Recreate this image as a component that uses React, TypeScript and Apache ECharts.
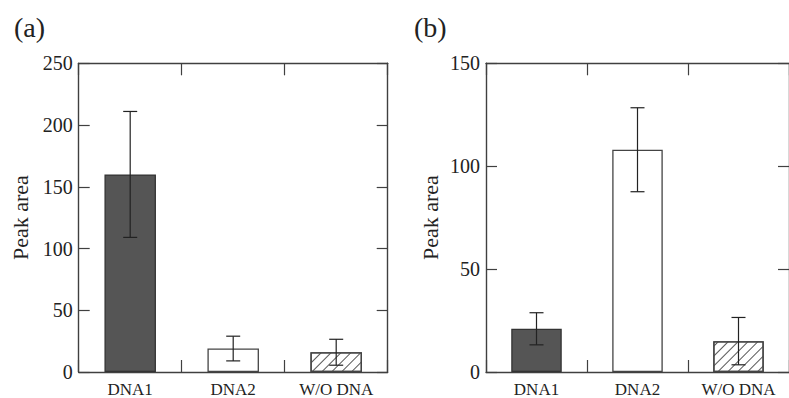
import React, { useEffect, useRef } from "react";
import * as echarts from "echarts";

const categories = ["DNA1", "DNA2", "W/O DNA"];
const valuesA = [160, 19, 16];
const errorsA = [51, 10, 10.5];
const valuesB = [21, 108, 15];
const errorsB = [7.8, 20.4, 11.5];
const yTicksA = { min: 0, max: 250, interval: 50 };
const yTicksB = { min: 0, max: 150, interval: 50 };
const panelLabels = ["(a)", "(b)"];
const yName = "Peak area";

const FONT = "Liberation Serif";
const LINE = "#404040";
const TEXT = "#222";

function barStyles(values: number[]) {
  const styles = [
    { color: "#555555", borderColor: "#333", borderWidth: 1.3 },
    { color: "#ffffff", borderColor: "#444", borderWidth: 1.3 },
    {
      color: "#ffffff",
      borderColor: "#444",
      borderWidth: 1.3,
      decal: {
        symbol: "rect",
        symbolSize: 1,
        dashArrayX: [1, 0],
        dashArrayY: [1, 6],
        rotation: -Math.PI / 4,
        color: "#555",
        backgroundColor: "#ffffff",
      },
    },
  ];
  return values.map((v, i) => ({ value: v, itemStyle: styles[i] }));
}

function errorData(values: number[], errors: number[]) {
  return values.map((v, i) => [i, v - errors[i], v + errors[i]]);
}

function renderError(params: any, api: any) {
  const x = api.value(0);
  const lo = api.coord([x, api.value(1)]);
  const hi = api.coord([x, api.value(2)]);
  const half = 7;
  const style = { stroke: "#222", lineWidth: 1.2, fill: null };
  return {
    type: "group",
    children: [
      { type: "line", shape: { x1: lo[0], y1: lo[1], x2: hi[0], y2: hi[1] }, style },
      { type: "line", shape: { x1: hi[0] - half, y1: hi[1], x2: hi[0] + half, y2: hi[1] }, style },
      { type: "line", shape: { x1: lo[0] - half, y1: lo[1], x2: lo[0] + half, y2: lo[1] }, style },
    ],
  };
}

export default function App() {
  const ref = useRef<HTMLDivElement>(null);
  useEffect(() => {
    if (!ref.current) return;
    const chart = echarts.init(ref.current, null, { renderer: "svg" });
    const axisLine = { show: true, onZero: false, lineStyle: { color: LINE, width: 1.4 } };
    const catAxis = (grid: number, pos: string, showLabel: boolean) => ({
      type: "category",
      gridIndex: grid,
      position: pos,
      data: categories,
      boundaryGap: true,
      axisLine,
      axisTick: { show: true, inside: true, length: 12, lineStyle: { color: LINE, width: 1.2 } },
      axisLabel: {
        show: showLabel,
        fontFamily: FONT,
        fontSize: 17,
        color: TEXT,
        margin: 9,
      },
      splitLine: { show: false },
    });
    const valAxis = (grid: number, pos: string, showLabel: boolean, t: any, named: boolean, gap: number) => ({
      type: "value",
      gridIndex: grid,
      position: pos,
      min: t.min,
      max: t.max,
      interval: t.interval,
      axisLine,
      axisTick: { show: true, inside: true, length: 11, lineStyle: { color: LINE, width: 1.2 } },
      axisLabel: { show: showLabel, fontFamily: FONT, fontSize: 20, color: TEXT, margin: 6 },
      splitLine: { show: false },
      name: named ? yName : "",
      nameLocation: "middle",
      nameGap: gap,
      nameTextStyle: { fontFamily: FONT, fontSize: 22, color: TEXT },
    });
    chart.setOption({
      animation: false,
      backgroundColor: "#ffffff",
      title: [
        {
          text: panelLabels[0],
          left: 9,
          top: 8,
          textStyle: { fontFamily: FONT, fontSize: 28, fontWeight: "normal", color: TEXT },
        },
        {
          text: panelLabels[1],
          left: 409,
          top: 8,
          textStyle: { fontFamily: FONT, fontSize: 28, fontWeight: "normal", color: TEXT },
        },
      ],
      grid: [
        { left: 78.7, top: 63.3, width: 309, height: 310 },
        { left: 486, top: 63.3, width: 306, height: 310 },
      ],
      xAxis: [
        catAxis(0, "bottom", true),
        catAxis(0, "top", false),
        catAxis(1, "bottom", true),
        catAxis(1, "top", false),
      ],
      yAxis: [
        valAxis(0, "left", true, yTicksA, true, 47),
        valAxis(0, "right", false, yTicksA, false, 0),
        valAxis(1, "left", true, yTicksB, true, 45),
        valAxis(1, "right", false, yTicksB, false, 0),
      ],
      series: [
        {
          type: "bar",
          xAxisIndex: 0,
          yAxisIndex: 0,
          barWidth: "50%",
          data: barStyles(valuesA),
        },
        {
          type: "custom",
          xAxisIndex: 0,
          yAxisIndex: 0,
          renderItem: renderError,
          data: errorData(valuesA, errorsA),
          z: 10,
        },
        {
          type: "bar",
          xAxisIndex: 2,
          yAxisIndex: 2,
          barWidth: "50%",
          data: barStyles(valuesB),
        },
        {
          type: "custom",
          xAxisIndex: 2,
          yAxisIndex: 2,
          renderItem: renderError,
          data: errorData(valuesB, errorsB),
          z: 10,
        },
      ],
    });
    return () => chart.dispose();
  }, []);
  return (
    <div
      ref={ref}
      style={{ position: "fixed", left: 0, top: 0, width: 789, height: 398 }}
    />
  );
}
